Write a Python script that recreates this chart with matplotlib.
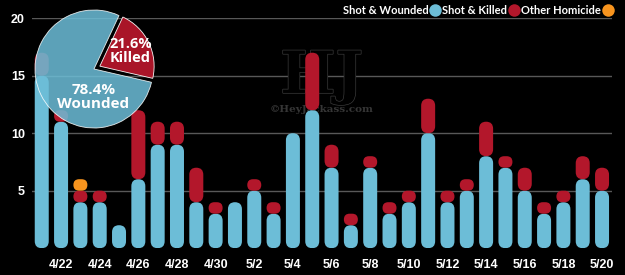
import matplotlib
matplotlib.use("Agg")
import matplotlib.pyplot as plt
import matplotlib.patheffects as pe
import numpy as np
from matplotlib.patches import FancyBboxPatch, Wedge
from matplotlib.lines import Line2D

# daily counts 4/21 - 5/20
dates = ["4/21", "4/22", "4/23", "4/24", "4/25", "4/26", "4/27", "4/28", "4/29", "4/30",
         "5/1", "5/2", "5/3", "5/4", "5/5", "5/6", "5/7", "5/8", "5/9", "5/10",
         "5/11", "5/12", "5/13", "5/14", "5/15", "5/16", "5/17", "5/18", "5/19", "5/20"]
wounded = [15, 11, 4, 4, 2, 6, 9, 9, 4, 3, 4, 5, 3, 10, 12, 7, 2, 7, 3, 4,
           10, 4, 5, 8, 7, 5, 3, 4, 6, 5]
killed = [2, 1, 1, 1, 0, 6, 2, 2, 3, 1, 0, 1, 1, 0, 5, 2, 1, 1, 1, 1,
          3, 1, 1, 3, 1, 2, 1, 1, 2, 2]
other = [0, 0, 1, 0, 0, 0, 0, 0, 0, 0, 0, 0, 0, 0, 0, 0, 0, 0, 0, 0,
         0, 0, 0, 0, 0, 0, 0, 0, 0, 0]
series_names = ["Shot & Wounded", "Shot & Killed", "Other Homicide"]

BLUE = "#6cbdd7"
RED = "#b3172b"
ORANGE = "#f7941e"
colors = [BLUE, RED, ORANGE]

W, H = 625, 275
fig = plt.figure(figsize=(W / 100, H / 100), dpi=100, facecolor="black")

# main axes
ax_l, ax_r, ax_t, ax_b = 31.7, 611.7, 18.2, 248.2
ax = fig.add_axes([ax_l / W, 1 - ax_b / H, (ax_r - ax_l) / W, (ax_b - ax_t) / H])
ax.set_facecolor("black")
xmin, xmax = -0.52, 29.5
ymin, ymax = 0, 20
ax.set_xlim(xmin, xmax)
ax.set_ylim(ymin, ymax)

# aspect so rounded caps come out circular
x_per_px = (xmax - xmin) / (ax_r - ax_l)
y_per_px = (ymax - ymin) / (ax_b - ax_t)
asp = y_per_px / x_per_px
bw = 14 * x_per_px

for i in range(len(dates)):
    base = 0
    for vals, c in zip([wounded, killed, other], colors):
        h = vals[i]
        if h > 0:
            r = min(bw / 2, h / asp / 2)
            p = FancyBboxPatch((i - bw / 2, base), bw, h,
                               boxstyle=f"round,pad=0,rounding_size={r}",
                               mutation_aspect=asp, fc=c, ec="none", zorder=3)
            ax.add_patch(p)
        base += h

ax.set_yticks([5, 10, 15, 20])
ax.set_yticklabels(["5", "10", "15", "20"])
ax.set_xticks(range(1, len(dates), 2))
ax.set_xticklabels(dates[1::2])
ax.grid(axis="y", color="#585858", lw=1)
ax.set_axisbelow(True)
for s in ax.spines.values():
    s.set_visible(False)
ax.tick_params(length=0, colors="white")
ax.tick_params(axis="y", pad=5)
ax.tick_params(axis="x", pad=8)
for lab in ax.get_xticklabels() + ax.get_yticklabels():
    lab.set_fontfamily(["Liberation Sans Narrow", "Liberation Sans", "DejaVu Sans"])
    lab.set_fontweight("bold")
    lab.set_fontsize(9)

# watermark
ax.text(0.5, 0.675, "HJ", transform=ax.transAxes, ha="center", va="baseline",
        fontsize=42, fontweight="bold", family="DejaVu Serif", color="black",
        zorder=2, path_effects=[pe.withStroke(linewidth=1.0, foreground="#3a3a3a")])
ax.text(0.5, 0.592, "\u00a9HeyJackass.com", transform=ax.transAxes, ha="center",
        va="baseline", fontsize=7.5, fontweight="bold", family="DejaVu Serif",
        color="#363636", zorder=2)

# legend (labels before markers)
handles = [Line2D([], [], ls="none", marker="o", markersize=9, mfc=c, mec="none")
           for c in colors]
leg = ax.legend(handles, series_names, loc="center right", bbox_to_anchor=(1.0, 1.033),
                ncol=3, frameon=False, markerfirst=False, handlelength=0.7,
                handletextpad=0.25, columnspacing=0.3, borderpad=0, borderaxespad=0,
                prop={"family": "Lato", "weight": "bold", "size": 8})
for t in leg.get_texts():
    t.set_color("white")

# pie inset
cx, cy, rad = 94, 69, 59
half = 75
pax = fig.add_axes([(cx - half) / W, 1 - (cy + half) / H, 2 * half / W, 2 * half / H])
pax.set_xlim(-half / rad, half / rad)
pax.set_ylim(-half / rad, half / rad)
pax.axis("off")
pax.patch.set_alpha(0)

k_total = sum(killed) + sum(other)
w_total = sum(wounded)
k_share = k_total / (k_total + w_total)
start = -13
end = start + 360 * k_share
mid = (start + end) / 2
off = 0.11
ox, oy = off * np.cos(np.radians(mid)), off * np.sin(np.radians(mid))
pax.add_patch(Wedge((0, 0), 1, end, start + 360, fc=BLUE, ec="white", lw=0.6, alpha=0.86))
pax.add_patch(Wedge((ox, oy), 0.92, start, end, fc=RED, ec="white", lw=0.6, alpha=0.95))
pax.text(0.62, 0.30, f"{k_share * 100:.1f}%\nKilled", ha="center", va="center",
         color="white", fontsize=10.5, fontweight="bold", family="Open Sans",
         linespacing=1.0)
pax.text(-0.01, -0.48, f"{(1 - k_share) * 100:.1f}%\nWounded", ha="center", va="center",
         color="white", fontsize=11, fontweight="bold", family="Open Sans",
         linespacing=1.0)

fig.savefig("out.png", dpi=100, facecolor="black")
